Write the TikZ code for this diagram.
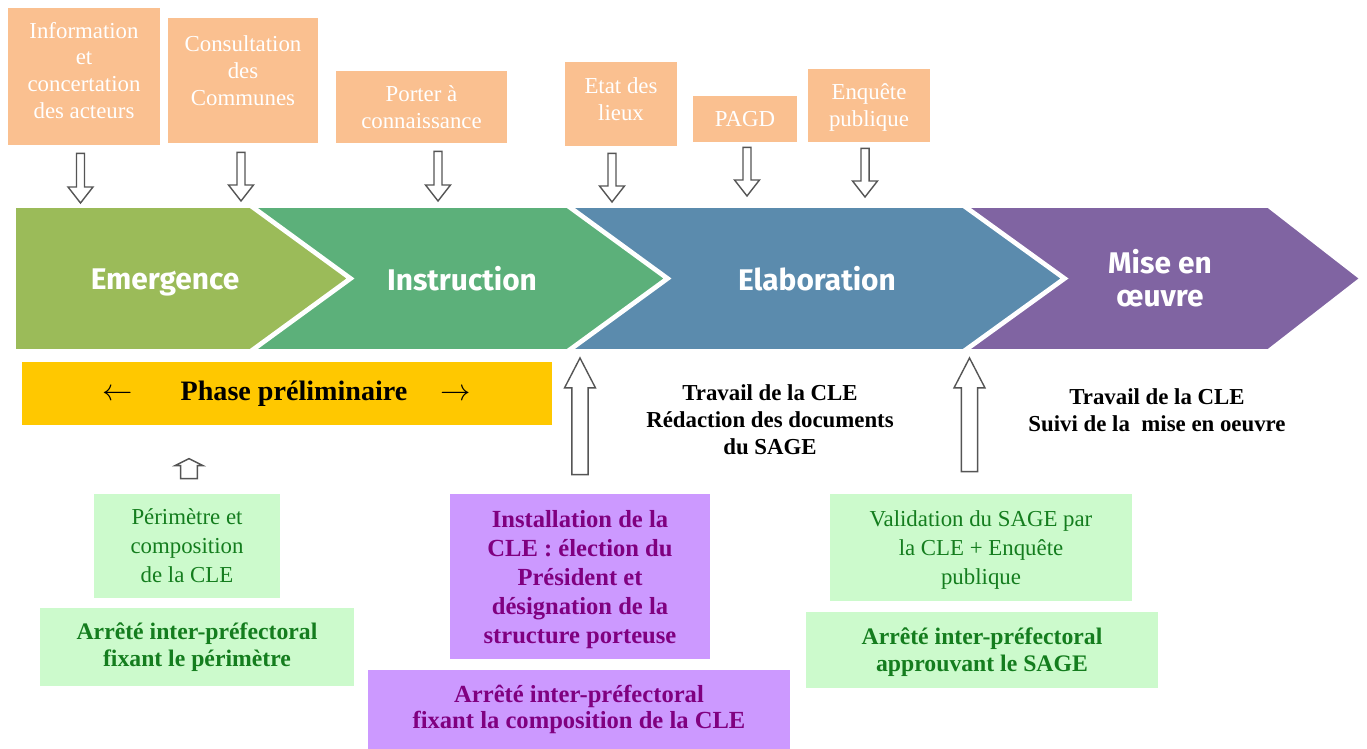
\documentclass[tikz,border=0pt]{standalone}
\usepackage{fontspec}
\setmainfont{Liberation Serif}
\newfontfamily\chevfont{Fira Sans}
\usetikzlibrary{calc,positioning}

\definecolor{peach}{RGB}{250,192,144}
\definecolor{emergcol}{RGB}{155,187,89}
\definecolor{instrcol}{RGB}{92,176,122}
\definecolor{elabcol}{RGB}{91,139,173}
\definecolor{misecol}{RGB}{128,100,162}
\definecolor{gold}{RGB}{255,200,0}
\definecolor{palegreen}{RGB}{204,250,204}
\definecolor{deepgreen}{RGB}{20,125,30}
\definecolor{lavender}{RGB}{204,153,255}
\definecolor{plum}{RGB}{128,0,128}
\definecolor{arrowgrey}{RGB}{85,85,85}

\tikzset{
    % Boxes
    top box/.style={fill=peach,text=white,align=center,inner sep=2pt,
        font=\fontsize{13}{15.3}\selectfont},
    chevron/.style={draw=white,line width=1pt,line join=miter},
    chevron text/.style={text=white,align=center,
        font=\chevfont\bfseries\fontsize{17}{18.8}\selectfont},
    green box/.style={fill=palegreen,text=deepgreen,align=center,inner sep=2pt,
        font=\fontsize{13}{16.5}\selectfont},
    green decree/.style={green box,font=\bfseries\fontsize{13.5}{15.3}\selectfont},
    purple box/.style={fill=lavender,text=plum,align=center,inner sep=2pt,
        font=\bfseries\fontsize{14}{16.5}\selectfont},
    purple decree/.style={purple box,font=\bfseries\fontsize{14}{15.3}\selectfont},
    work text/.style={align=center,font=\bfseries\fontsize{13}{15.3}\selectfont},
    %
    % Hollow block arrows (vertical only)
    hollow/.style n args={3}{draw=arrowgrey,fill=white,line width=.8pt,line join=miter,
        to path={let \p1=(\tikztostart),\p2=(\tikztotarget),\n1={sign(\y2-\y1)} in
            ({\x1-#1},\y1) -- ({\x1-#1},{\y2-(\n1)*#3}) -- ({\x1-#2},{\y2-(\n1)*#3})
            -- (\x2,\y2) -- ({\x1+#2},{\y2-(\n1)*#3}) -- ({\x1+#1},{\y2-(\n1)*#3})
            -- ({\x1+#1},\y1) -- cycle}},
    down arr/.style={hollow={2.3pt}{7.1pt}{9.1pt}},
    up arr/.style={hollow={4.6pt}{8.8pt}{17pt}},
    stub arr/.style={hollow={4.8pt}{8pt}{4pt}}
}

\begin{document}
\begin{tikzpicture}[x=0.02cm,y=-0.02cm]
    \useasboundingbox[fill=white] (0,0) rectangle (1367,749);
    \coordinate (band) at (0,201);
    \coordinate (bandbot) at (0,358);

    % steps feeding the process
    \node[top box,minimum width=3.04cm,minimum height=2.74cm,text depth=7pt] (info) at (84,76.5)
        {Information\\et\\concertation\\des acteurs};
    \node[top box,minimum width=3cm,minimum height=2.5cm,text depth=11.4pt] (consult) at (243,80.5)
        {Consultation\\des\\Communes};
    \node[top box,minimum width=3.42cm,minimum height=1.44cm] (porter) at (421.5,107)
        {Porter à\\connaissance};
    \node[top box,minimum width=2.24cm,minimum height=1.68cm,text depth=5.7pt] (etat) at (621,104)
        {Etat des\\lieux};
    \node[top box,minimum width=2.08cm,minimum height=.92cm] (pagd) at (745,119)
        {PAGD};
    \node[top box,minimum width=2.44cm,minimum height=1.46cm,text depth=0pt] (enquete) at (869,105.5)
        {Enquête\\publique};

    \draw[down arr] ($(info.south)+(-3.5,8)$) to ($(info.south |- band)+(-3.5,2)$);
    \draw[down arr] ($(consult.south)+(-2,9)$) to ($(consult.south |- band)+(-2,0)$);
    \draw[down arr] ($(porter.south)+(16.5,8)$) to ($(porter.south |- band)+(16.5,0)$);
    \draw[down arr] ($(etat.south)+(-9,7)$) to ($(etat.south |- band)+(-9,1)$);
    \draw[down arr] ($(pagd.south)+(2,5)$) to ($(pagd.south |- band)+(2,-5)$);
    \draw[down arr] ($(enquete.south)+(-4,6)$) to ($(enquete.south |- band)+(-4,-4)$);

    % the four phases
    \fill[emergcol,chevron] (15,207) -- (250,207) -- (348,278.5) -- (250,350)
        -- (15,350) -- cycle;
    \fill[instrcol,chevron] (255,207) -- (567,207) -- (665,278.5) -- (567,350)
        -- (255,350) -- (353,278.5) -- cycle;
    \fill[elabcol,chevron] (572,207) -- (963,207) -- (1062,278.5) -- (963,350)
        -- (572,350) -- (670,278.5) -- cycle;
    \fill[misecol,chevron] (968,207) -- (1268,207) -- (1360,278.5) -- (1268,350)
        -- (968,350) -- (1067,278.5) -- cycle;
    \node[chevron text] (emerg) at (165,282) {Emergence};
    \node[chevron text] (instr) at (462,278.5) {Instruction};
    \node[chevron text] (elab) at (817,278.5) {Elaboration};
    \node[chevron text] (mise) at (1160,278.5) {Mise en\\œuvre};

    % below the ribbon
    \node[fill=gold,minimum width=10.6cm,minimum height=1.26cm,
        font=\bfseries\fontsize{16}{18}\selectfont] (phase) at (287,393.5)
        {$\leftarrow$\hspace{27pt}Phase préliminaire\hspace{19pt}$\rightarrow$};
    \node[work text] (redac) at (770,419.5)
        {Travail de la CLE\\Rédaction des documents\\du SAGE};
    \node[work text] (suivi) at (1157,410)
        {Travail de la CLE\\Suivi de la~ mise en oeuvre};

    % decisions of the CLE
    \node[green box,minimum width=3.72cm,minimum height=2.08cm] (perim) at (187,546)
        {Périmètre et\\composition\\de la CLE};
    \node[green decree,minimum width=6.28cm,minimum height=1.56cm] (arrete1) at (197,647)
        {Arrêté inter-préfectoral\\fixant le périmètre};
    \node[purple box,minimum width=5.2cm,minimum height=3.3cm,text depth=0pt] (install) at (580,576.5)
        {Installation de la\\CLE : élection du\\Président et\\désignation de la\\structure porteuse};
    \node[purple decree,minimum width=8.44cm,minimum height=1.58cm] (arrete2) at (579,709.5)
        {Arrêté inter-préfectoral\\fixant la composition de la CLE};
    \node[green box,minimum width=6.04cm,minimum height=2.14cm,text depth=0pt] (valid) at (981,547.5)
        {Validation du SAGE par\\la CLE + Enquête\\publique};
    \node[green decree,minimum width=7.04cm,minimum height=1.52cm,text depth=0pt] (arrete3) at (982,650)
        {Arrêté inter-préfectoral\\approuvant le SAGE};

    \draw[stub arr] ($(perim.north)+(2,-15)$) to ($(perim.north)+(2,-35)$);
    \draw[up arr] ($(install.north)+(0,-19)$) to (install.north |- bandbot);
    \draw[up arr] ($(valid.north)+(-11.5,-22)$) to ($(valid.north |- bandbot)+(-11.5,0)$);
\end{tikzpicture}
\end{document}
